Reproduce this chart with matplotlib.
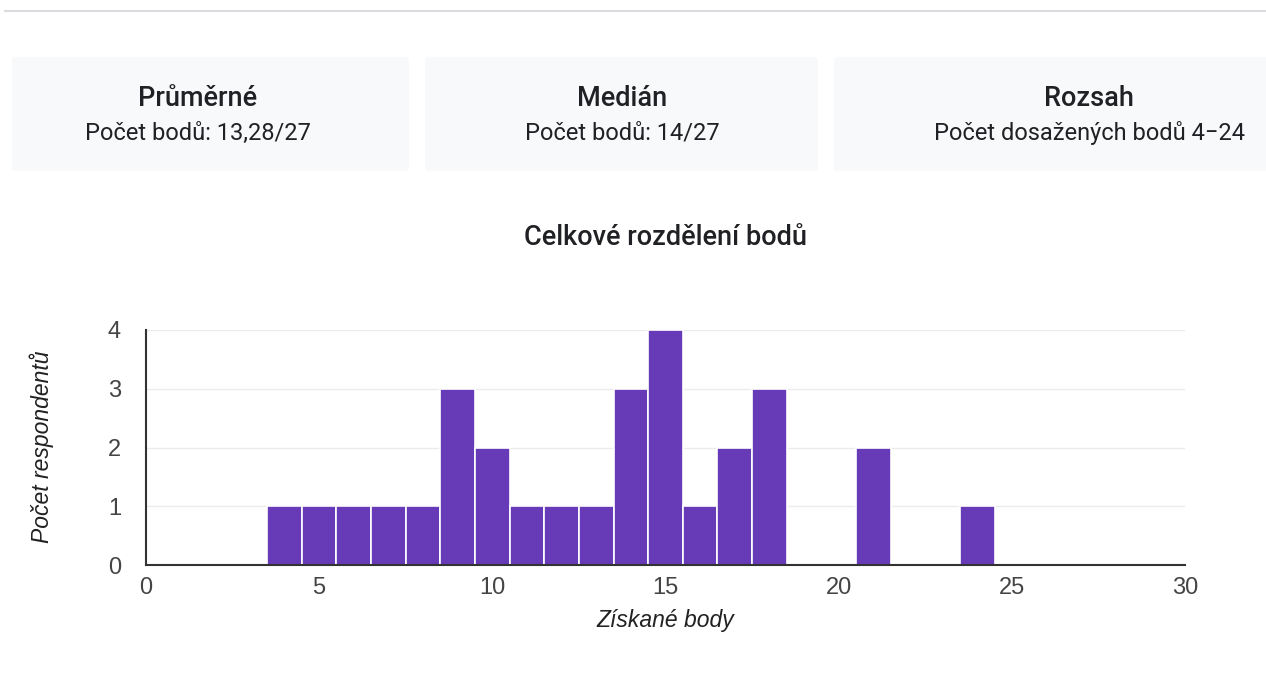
import matplotlib
matplotlib.use("Agg")
import matplotlib.pyplot as plt
from matplotlib.patches import FancyBboxPatch
from matplotlib.lines import Line2D

# Data
scores = [4, 5, 6, 7, 8, 9, 10, 11, 12, 13, 14, 15, 16, 17, 18, 21, 24]
counts = [1, 1, 1, 1, 1, 3, 2, 1, 1, 1, 3, 4, 1, 2, 3, 2, 1]
card_titles = ["Průměrné", "Medián", "Rozsah"]
card_texts = ["Počet bodů: 13,28/27", "Počet bodů: 14/27", "Počet dosažených bodů 4\u221224"]
chart_title = "Celkové rozdělení bodů"
x_label = "Získané body"
y_label = "Počet respondentů"
x_ticks = [0, 5, 10, 15, 20, 25, 30]
y_ticks = [0, 1, 2, 3, 4]

W, H = 1266, 677
fig = plt.figure(figsize=(W / 100, H / 100), dpi=100)
fig.patch.set_facecolor("white")

def fx(px):
    return px / W

def fy(py):
    return 1 - py / H

# top separator
fig.add_artist(Line2D([fx(5), 1.0], [fy(11), fy(11)], color="#dadce0", lw=1.5))

# cards
cards = [(12, 409), (425, 818), (834, 1344)]
text_centers = [198, 622, 1089]
for (x0, x1), tc, t, s in zip(cards, text_centers, card_titles, card_texts):
    fig.add_artist(FancyBboxPatch((fx(x0), fy(171)), fx(x1 - x0), (171 - 57) / H,
                                  boxstyle="round,pad=0,rounding_size=0.004",
                                  facecolor="#f8f9fa", edgecolor="none",
                                  transform=fig.transFigure))
    cx = fx(tc)
    fig.text(cx, fy(98), t, ha="center", va="center", fontsize=19.5, fontfamily="Roboto",
             fontweight="medium", color="#202124")
    fig.text(cx, fy(133), s, ha="center", va="center", fontsize=17, fontfamily="Roboto",
             color="#202124")

fig.text(fx(665), fy(237), chart_title, ha="center", va="center", fontsize=19.5,
         fontfamily="Roboto", fontweight="medium", color="#202124")

ax = fig.add_axes([fx(146), fy(565), fx(1185 - 146), (565 - 330) / H])
ax.bar(scores, counts, width=1.0, color="#673ab7", edgecolor="white", linewidth=1.2, zorder=2)
ax.set_xlim(0, 30)
ax.set_ylim(0, 4)
ax.set_xticks(x_ticks)
ax.set_yticks(y_ticks)
ax.yaxis.grid(True, color="#ebebeb", lw=1, zorder=0)
ax.set_axisbelow(True)
for sp in ["top", "right"]:
    ax.spines[sp].set_visible(False)
for sp in ["left", "bottom"]:
    ax.spines[sp].set_color("#333333")
    ax.spines[sp].set_linewidth(1.5)
    ax.spines[sp].set_zorder(3)
ax.tick_params(axis="both", length=0, labelsize=17, labelcolor="#444444")
ax.tick_params(axis="y", pad=18)
ax.tick_params(axis="x", pad=9)
for lab in ax.get_xticklabels() + ax.get_yticklabels():
    lab.set_fontfamily("Liberation Sans")
ax.set_xlabel(x_label, fontsize=16.5, fontstyle="italic", color="#222222",
              fontfamily="Liberation Sans", va="center")
ax.set_ylabel(y_label, fontsize=16.5, fontstyle="italic", color="#222222",
              fontfamily="Liberation Sans", va="center")
ax.xaxis.set_label_coords(0.5, (565 - 620) / 235)
ax.yaxis.set_label_coords((42 - 146) / 1039, (565 - 447) / 235)

fig.savefig("out.png", dpi=100, facecolor="white")
